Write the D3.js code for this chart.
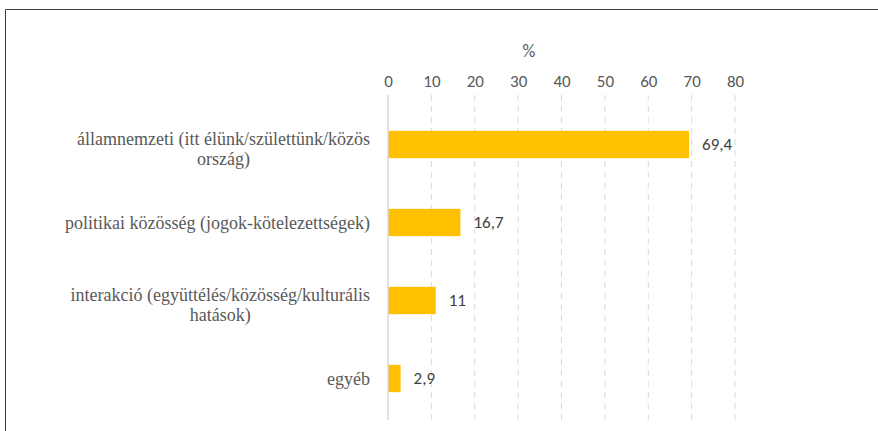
<!DOCTYPE html>
<html><head><meta charset="utf-8">
<script src="https://cdn.jsdelivr.net/npm/d3@7"></script>
<style>body{margin:0;background:#fff}svg{display:block}
svg text.cat, svg text.cat tspan{font-family:"Liberation Serif","Times New Roman",Tinos,serif;font-size:18px}
svg text.sans{font-family:Carlito,Calibri,"Open Sans",sans-serif;font-size:17px}
svg text.title{font-size:18px}
</style>
</head><body>
<svg id="c" width="878" height="431"></svg>
<script>
const categories = [
  ["államnemzeti (itt élünk/születtünk/közös", "ország)"],
  ["politikai közösség (jogok-kötelezettségek)"],
  ["interakció (együttélés/közösség/kulturális", "hatások)"],
  ["egyéb"]
];
const values = [69.4, 16.7, 11, 2.9];
const valueLabels = ["69,4", "16,7", "11", "2,9"];
const ticks = [0, 10, 20, 30, 40, 50, 60, 70, 80];
const axisTitle = "%";

const svg = d3.select("#c");
svg.append("path").attr("d", "M5.5,431 L5.5,9.5 L878,9.5").attr("fill", "none").attr("stroke", "#404040").attr("stroke-width", 1);

const x = d3.scaleLinear().domain([0, 80]).range([388, 735]);
const y = d3.scaleBand().domain(d3.range(categories.length)).range([105.5, 417.5]).paddingInner(0.65).paddingOuter(0.325);

const grid = svg.append("g");
ticks.slice(1).forEach(t => {
  grid.append("line").attr("x1", x(t)).attr("x2", x(t)).attr("y1", 95).attr("y2", 420)
    .attr("stroke", "#d9d9d9").attr("stroke-width", 1).attr("stroke-dasharray", "6,5");
});
const ax = d3.axisTop(x).tickValues(ticks).tickSize(0).tickPadding(0).tickFormat(d3.format("d"));
const axg = svg.append("g").attr("transform", "translate(0,87)").call(ax);
axg.select(".domain").remove();
axg.attr("font-family", null).attr("font-size", null);
axg.selectAll("text").attr("class", "sans").attr("fill", "#595959");
svg.append("text").attr("class", "sans title").attr("x", 529).attr("y", 57).attr("text-anchor", "middle")
  .attr("fill", "#595959").text(axisTitle);

svg.append("g").selectAll("rect").data(values).join("rect")
  .attr("x", x(0)).attr("y", (d, i) => y(i)).attr("width", d => x(d) - x(0)).attr("height", y.bandwidth())
  .attr("fill", "#ffc000");
svg.append("line").attr("x1", x(0)).attr("x2", x(0)).attr("y1", 95).attr("y2", 420).attr("stroke", "#d9d9d9").attr("stroke-width", 1.5);

svg.append("g").selectAll("text").data(values).join("text").attr("class", "sans")
  .attr("x", d => x(d) + 13).attr("y", (d, i) => y(i) + y.bandwidth() / 2).attr("dy", "0.35em")
  .attr("fill", "#404040")
  .text((d, i) => valueLabels[i]);

const lg = svg.append("g");
categories.forEach((lines, i) => {
  const cy = y(i) + y.bandwidth() / 2 + (lines.length > 1 ? 4 : 0);
  const t = lg.append("text").attr("class", "cat").attr("fill", "#595959").attr("text-anchor", "middle");
  const lh = 20;
  lines.forEach((l, j) => {
    t.append("tspan").attr("x", 0).attr("y", cy + (j - (lines.length - 1) / 2) * lh).attr("dy", "0.35em").text(l);
  });
  const w = t.node().getBBox().width;
  t.selectAll("tspan").attr("x", 370 - w / 2);
});
</script>
</body></html>
